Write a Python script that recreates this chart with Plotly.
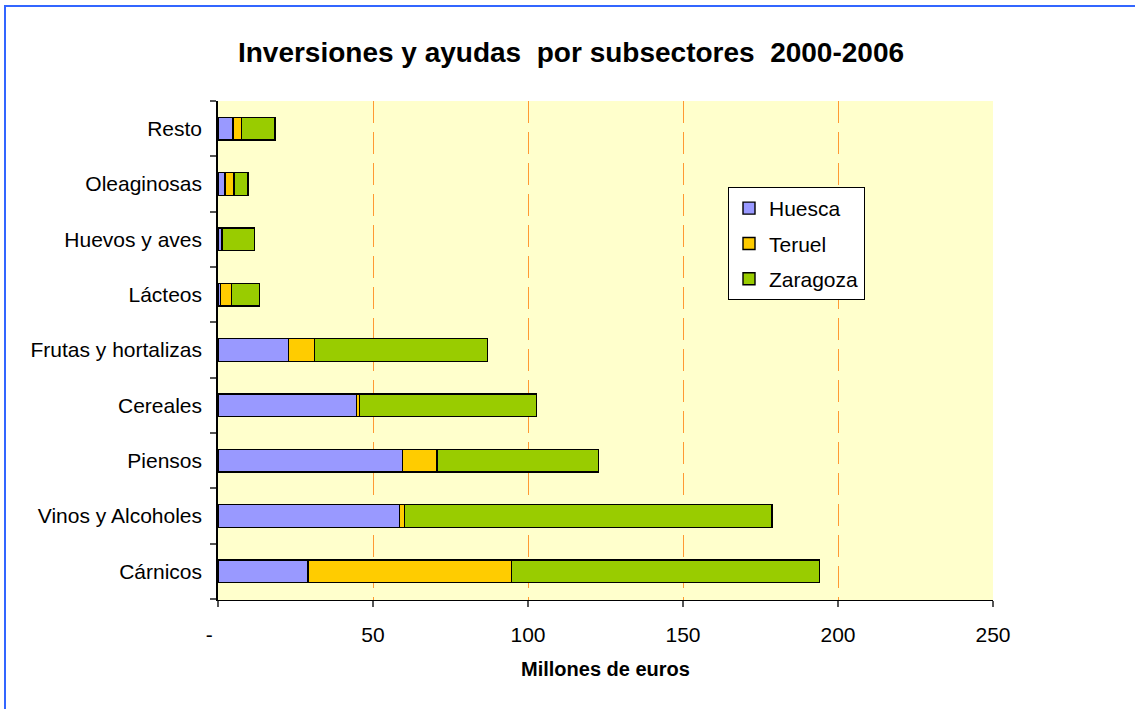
import plotly.graph_objects as go

# Subsectors, listed bottom to top
subsectores = ["Cárnicos", "Vinos y Alcoholes", "Piensos", "Cereales",
               "Frutas y hortalizas", "Lácteos", "Huevos y aves",
               "Oleaginosas", "Resto"]

# Millions of euros per province
huesca = [29.0, 58.5, 59.6, 44.7, 22.8, 0.8, 1.2, 2.2, 4.9]
teruel = [65.7, 1.6, 11.1, 0.9, 8.4, 3.6, 0.3, 3.0, 2.7]
zaragoza = [99.3, 118.6, 52.1, 57.1, 55.7, 9.0, 10.2, 4.5, 10.8]

x_ticks = [0, 50, 100, 150, 200, 250]
x_tick_text = ["-\u00a0\u00a0\u00a0", "50", "100", "150", "200", "250"]
grid_vals = [50, 100, 150, 200]

series = [("Huesca", huesca, "#9999FF"),
          ("Teruel", teruel, "#FFCC00"),
          ("Zaragoza", zaragoza, "#99CC00")]

FONT = "Liberation Sans, Arial, sans-serif"

fig = go.Figure()
for name, vals, color in series:
    fig.add_trace(go.Bar(
        y=subsectores, x=vals, name=name, orientation="h",
        legendgroup=name,
        marker=dict(color=color, line=dict(color="black", width=1.4)),
    ))

# Invisible trace on an overlaying axis carries the dashed vertical grid
fig.add_trace(go.Scatter(x=[0], y=[subsectores[0]], xaxis="x2",
                         mode="markers", marker=dict(opacity=0),
                         showlegend=False, hoverinfo="skip"))

fig.update_layout(
    width=1135, height=709,
    barmode="stack", bargap=0.59,
    paper_bgcolor="white", plot_bgcolor="#FFFFCC",
    margin=dict(l=218, r=142, t=101, b=109),
    font=dict(family=FONT, size=21, color="black"),
    title=dict(text="<b>Inversiones y ayudas\u00a0 por subsectores\u00a0 2000-2006</b>",
               x=571 / 1135, xanchor="center", y=1 - 52 / 709, yanchor="middle",
               font=dict(size=28, family=FONT, color="black")),
    xaxis=dict(range=[0, 250], tickvals=x_ticks, ticktext=x_tick_text,
               showgrid=False, zeroline=False, showline=True,
               linecolor="black", linewidth=1, ticks="outside",
               ticklen=6, tickcolor="#555555", tickwidth=1.5,
               tickfont=dict(size=21), ticklabelstandoff=10,
               layer="below traces",
               title=dict(text="<b>Millones de euros</b>",
                          font=dict(size=20), standoff=16)),
    xaxis2=dict(range=[0, 250], overlaying="x", tickvals=grid_vals,
                showticklabels=False, showgrid=True, gridcolor="#FF9933",
                gridwidth=1.2, griddash="22px,9px", zeroline=False,
                showline=False, layer="below traces", side="bottom",
                anchor="y"),
    yaxis=dict(showgrid=False, zeroline=False, showline=True,
               linecolor="black", linewidth=1.5, ticks="outside",
               tickson="boundaries", ticklen=6, tickcolor="#555555",
               tickwidth=1.5, tickfont=dict(size=21), ticklabelstandoff=10),
    legend=dict(x=(728 - 218) / 775, y=(600 - 187) / 499,
                xanchor="left", yanchor="top",
                bgcolor="white", bordercolor="black", borderwidth=1,
                font=dict(size=21), tracegroupgap=5, traceorder="grouped"),
    showlegend=True,
)

# Blue frame around the chart
fig.add_shape(type="rect", xref="paper", yref="paper",
              x0=(5 - 218) / 775, x1=1.3, y0=-0.5, y1=(600 - 6) / 499,
              line=dict(color="#3366FF", width=2), fillcolor="rgba(0,0,0,0)",
              layer="above")

fig.write_html("out.html")
